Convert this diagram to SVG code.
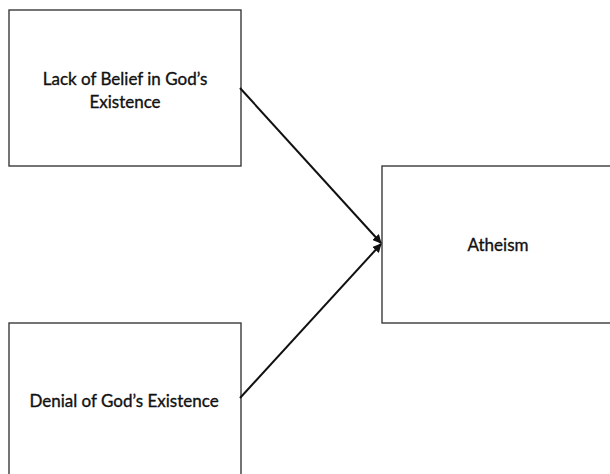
<svg xmlns="http://www.w3.org/2000/svg" width="610" height="474" viewBox="0 0 610 474">
  <style>
    .box { fill: #ffffff; stroke: #3a3a3a; stroke-width: 1.4; }
    .label { font-family: "Lato", "Liberation Sans", sans-serif; font-size: 17px; fill: #111111; stroke: #111111; stroke-width: 0.35; text-anchor: middle; }
    .edge { stroke: #111111; stroke-width: 2; fill: none; marker-end: url(#arrow); }
  </style>
  <defs>
    <marker id="arrow" viewBox="0 0 10 10" refX="9" refY="5" markerWidth="4.5" markerHeight="4.5" orient="auto" markerUnits="strokeWidth">
      <path d="M0,0 L10,5 L0,10 z" fill="#111111"/>
    </marker>
  </defs>
  <rect width="610" height="474" fill="#ffffff"/>

  <g id="node-lack-of-belief">
    <rect class="box" x="9" y="10" width="232" height="156"/>
    <text class="label" x="125" y="85">Lack of Belief in God’s</text>
    <text class="label" x="125" y="107.5">Existence</text>
  </g>

  <g id="node-denial">
    <rect class="box" x="9" y="323" width="232" height="160"/>
    <text class="label" x="124" y="407">Denial of God’s Existence</text>
  </g>

  <g id="node-atheism">
    <rect class="box" x="382" y="166" width="232" height="157"/>
    <text class="label" x="498" y="251">Atheism</text>
  </g>

  <g id="connectors">
    <line class="edge" x1="240" y1="88" x2="381" y2="243"/>
    <line class="edge" x1="240" y1="398" x2="381" y2="244"/>
  </g>
</svg>
